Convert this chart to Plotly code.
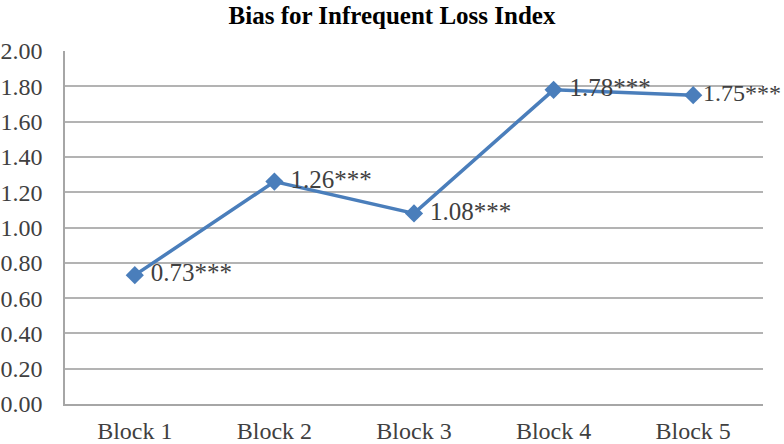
import plotly.graph_objects as go

categories = ["Block 1", "Block 2", "Block 3", "Block 4", "Block 5"]
values = [0.73, 1.26, 1.08, 1.78, 1.75]
labels = ["0.73***", "1.26***", "1.08***", "1.78***", "1.75***"]
title = "Bias for Infrequent Loss Index"

font = "Liberation Serif, Times New Roman, serif"

# the last label sits tighter to its marker so it fits inside the chart
label_text = ["\u00a0" + s for s in labels[:-1]] + [labels[-1]]

fig = go.Figure()
fig.add_trace(go.Scatter(
    x=categories, y=values, mode="lines+markers+text",
    text=label_text, textposition="middle right",
    textfont=dict(family=font, size=[25, 25, 25, 25, 24], color="#404040"),
    line=dict(color="#4A7EBB", width=3.5),
    marker=dict(symbol="diamond", size=14, color="#4A7EBB"),
    cliponaxis=False, showlegend=False,
))

fig.update_layout(
    width=784, height=444,
    margin=dict(l=65, r=21, t=51, b=40),
    paper_bgcolor="white", plot_bgcolor="white",
    title=dict(text="<b>" + title + "</b>", x=0.5, xanchor="center", y=0.965, yanchor="middle",
               font=dict(family=font, size=25, color="black")),
    font=dict(family=font, color="#404040"),
)
fig.update_xaxes(
    automargin=False,
    showgrid=False, showline=True, linecolor="#A6A6A6", linewidth=2,
    ticks="", ticklabelstandoff=4,
    tickfont=dict(family=font, size=24, color="#404040"),
    range=[-0.5, 4.5],
)
fig.update_yaxes(
    automargin=False,
    range=[0, 2.0], dtick=0.2, tickformat=".2f",
    showgrid=True, gridcolor="#B3B3B3", gridwidth=1.5,
    showline=True, linecolor="#A6A6A6", linewidth=1.5,
    zeroline=False, ticklabelstandoff=16,
    tickfont=dict(family=font, size=24, color="#404040"),
)

fig.write_html("out.html", config={"displayModeBar": False},
               post_script="document.body.style.margin='0';")
